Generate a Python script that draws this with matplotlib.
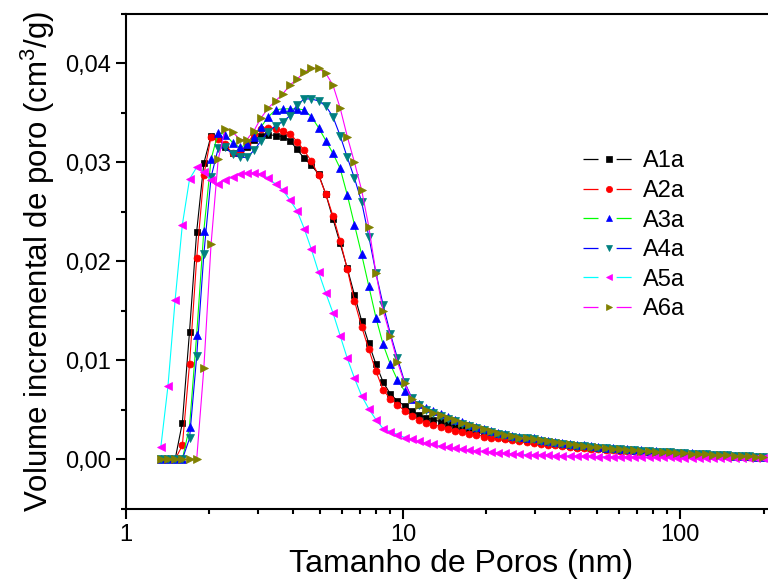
import matplotlib
matplotlib.use('Agg')
import matplotlib.pyplot as plt
from matplotlib.lines import Line2D
from matplotlib.ticker import FuncFormatter, MultipleLocator, LogLocator

plt.rcParams['font.family'] = ['Liberation Sans', 'DejaVu Sans']
plt.rcParams['mathtext.fontset'] = 'custom'
plt.rcParams['mathtext.rm'] = 'Liberation Sans'
plt.rcParams['mathtext.default'] = 'regular'

# pore width grid (nm), DFT log spacing
pore_width = [
    1.335, 1.417, 1.504, 1.597, 1.695, 1.799, 1.909, 2.027, 2.151, 2.283,
    2.423, 2.572, 2.730, 2.897, 3.075, 3.264, 3.465, 3.678, 3.903, 4.143,
    4.398, 4.668, 4.954, 5.259, 5.582, 5.925, 6.289, 6.675, 7.085, 7.520,
    7.982, 8.472, 8.993, 9.545, 10.13, 10.75, 11.41, 12.12, 12.86, 13.65,
    14.49, 15.38, 16.32, 17.33, 18.39, 19.52, 20.72, 21.99, 23.34, 24.78,
    26.30, 27.91, 29.63, 31.45, 33.38, 35.43, 37.61, 39.92, 42.37, 44.97,
    47.73, 50.66, 53.78, 57.08, 60.59, 64.31, 68.26, 72.45, 76.90, 81.63,
    86.64, 91.96, 97.61, 103.6, 110.0, 116.7, 123.9, 131.5, 139.6, 148.2,
    157.3, 166.9, 177.2, 188.1, 199.6,
]

a1a = [
    0, 0, 0, 0.0037, 0.0129, 0.0230, 0.0299, 0.0327, 0.0325, 0.0315,
    0.0309, 0.0309, 0.0315, 0.0323, 0.0327, 0.0328, 0.0327, 0.0326, 0.0322, 0.0313,
    0.0304, 0.0297, 0.0288, 0.0268, 0.0243, 0.0218, 0.0193, 0.0166, 0.0140, 0.0117,
    0.0096, 0.0078, 0.0066, 0.0059, 0.0054, 0.0049, 0.0045, 0.0042, 0.0040, 0.0038,
    0.0036, 0.0034, 0.0032, 0.0030, 0.0028, 0.0027, 0.0025, 0.0024, 0.0022, 0.0021,
    0.0020, 0.0019, 0.0018, 0.0017, 0.0016, 0.0015, 0.0014, 0.0013, 0.0012, 0.0012,
    0.0011, 0.0011, 0.0010, 0.0010, 0.0009, 0.0009, 0.0008, 0.0008, 0.0007, 0.0007,
    0.0007, 0.0006, 0.0006, 0.0005, 0.0005, 0.0005, 0.0004, 0.0004, 0.0004, 0.0003,
    0.0003, 0.0003, 0.0002, 0.0002, 0.0002,
]
a2a = [
    0, 0, 0, 0.0014, 0.0096, 0.0203, 0.0287, 0.0326, 0.0324, 0.0318,
    0.0309, 0.0310, 0.0318, 0.0329, 0.0334, 0.0335, 0.0334, 0.0332, 0.0329, 0.0321,
    0.0312, 0.0301, 0.0287, 0.0268, 0.0246, 0.0221, 0.0192, 0.0160, 0.0134, 0.0111,
    0.0089, 0.0070, 0.0061, 0.0055, 0.0049, 0.0044, 0.0040, 0.0037, 0.0035, 0.0033,
    0.0031, 0.0029, 0.0028, 0.0026, 0.0025, 0.0023, 0.0022, 0.0021, 0.0020, 0.0019,
    0.0018, 0.0017, 0.0016, 0.0015, 0.0014, 0.0014, 0.0013, 0.0012, 0.0011, 0.0011,
    0.0010, 0.0010, 0.0009, 0.0009, 0.0008, 0.0008, 0.0008, 0.0007, 0.0007, 0.0007,
    0.0006, 0.0006, 0.0006, 0.0005, 0.0005, 0.0005, 0.0004, 0.0004, 0.0004, 0.0003,
    0.0003, 0.0003, 0.0002, 0.0002, 0.0002,
]
a3a = [
    0, 0, 0, 0, 0.0033, 0.0126, 0.0231, 0.0303, 0.0330, 0.0328,
    0.0320, 0.0315, 0.0318, 0.0326, 0.0336, 0.0346, 0.0353, 0.0354, 0.0354, 0.0354,
    0.0353, 0.0346, 0.0335, 0.0322, 0.0309, 0.0294, 0.0267, 0.0237, 0.0207, 0.0175,
    0.0143, 0.0116, 0.0096, 0.0080, 0.0069, 0.0061, 0.0056, 0.0052, 0.0049, 0.0046,
    0.0043, 0.0040, 0.0038, 0.0035, 0.0033, 0.0031, 0.0029, 0.0027, 0.0026, 0.0024,
    0.0023, 0.0022, 0.0021, 0.0019, 0.0018, 0.0017, 0.0016, 0.0015, 0.0014, 0.0014,
    0.0013, 0.0012, 0.0011, 0.0011, 0.0010, 0.0010, 0.0009, 0.0009, 0.0008, 0.0008,
    0.0007, 0.0007, 0.0006, 0.0006, 0.0006, 0.0005, 0.0005, 0.0004, 0.0004, 0.0004,
    0.0003, 0.0003, 0.0003, 0.0002, 0.0002,
]
a4a = [
    0, 0, 0, 0, 0.0021, 0.0104, 0.0207, 0.0285, 0.0314, 0.0315,
    0.0308, 0.0305, 0.0305, 0.0312, 0.0322, 0.0331, 0.0337, 0.0341, 0.0347, 0.0358,
    0.0364, 0.0364, 0.0362, 0.0357, 0.0346, 0.0327, 0.0305, 0.0284, 0.0260, 0.0225,
    0.0188, 0.0156, 0.0127, 0.0102, 0.0078, 0.0062, 0.0055, 0.0050, 0.0047, 0.0044,
    0.0041, 0.0039, 0.0036, 0.0034, 0.0032, 0.0030, 0.0028, 0.0026, 0.0025, 0.0023,
    0.0022, 0.0021, 0.0020, 0.0018, 0.0017, 0.0016, 0.0015, 0.0014, 0.0013, 0.0013,
    0.0012, 0.0011, 0.0011, 0.0010, 0.0010, 0.0009, 0.0009, 0.0008, 0.0008, 0.0007,
    0.0007, 0.0007, 0.0006, 0.0006, 0.0005, 0.0005, 0.0005, 0.0004, 0.0004, 0.0004,
    0.0003, 0.0003, 0.0003, 0.0002, 0.0002,
]
a5a = [
    0.0012, 0.0074, 0.0161, 0.0237, 0.0283, 0.0295, 0.0290, 0.0282, 0.0278, 0.0282,
    0.0285, 0.0288, 0.0289, 0.0289, 0.0288, 0.0284, 0.0278, 0.0272, 0.0262, 0.0251,
    0.0233, 0.0212, 0.0189, 0.0168, 0.0148, 0.0125, 0.0102, 0.0082, 0.0064, 0.0051,
    0.0040, 0.0031, 0.0028, 0.0025, 0.0022, 0.0020, 0.0018, 0.0016, 0.0015, 0.0013,
    0.0012, 0.0011, 0.0010, 0.0009, 0.00085, 0.0008, 0.0007, 0.00065, 0.0006, 0.00055,
    0.0005, 0.00048, 0.00045, 0.00042, 0.0004, 0.00038, 0.00036, 0.00034, 0.00032, 0.0003,
    0.0003, 0.00028, 0.00027, 0.00026, 0.00025, 0.00024, 0.00023, 0.00022, 0.00021, 0.0002,
    0.0002, 0.00019, 0.00018, 0.00017, 0.00016, 0.00015, 0.00014, 0.00013, 0.00012, 0.00011,
    0.0001, 0.0001, 0.0001, 0.0001, 0.0001,
]
a6a = [
    0, 0, 0, 0, 0, 0, 0.0092, 0.0217, 0.0303, 0.0334,
    0.0331, 0.0323, 0.0323, 0.0332, 0.0345, 0.0355, 0.0362, 0.0369, 0.0378, 0.0384,
    0.0391, 0.0395, 0.0395, 0.0390, 0.0378, 0.0355, 0.0326, 0.0300, 0.0272, 0.0235,
    0.0188, 0.0150, 0.0125, 0.0098, 0.0077, 0.0061, 0.0055, 0.0050, 0.0047, 0.0045,
    0.0042, 0.0040, 0.0037, 0.0035, 0.0033, 0.0031, 0.0029, 0.0027, 0.0025, 0.0024,
    0.0022, 0.0021, 0.0020, 0.0019, 0.0018, 0.0017, 0.0016, 0.0015, 0.0014, 0.0013,
    0.0012, 0.0012, 0.0011, 0.0010, 0.0010, 0.0009, 0.0009, 0.0008, 0.0008, 0.0007,
    0.0007, 0.0007, 0.0006, 0.0006, 0.0005, 0.0005, 0.0005, 0.0004, 0.0004, 0.0004,
    0.0003, 0.0003, 0.0003, 0.0002, 0.0002,
]

labels = ['A1a', 'A2a', 'A3a', 'A4a', 'A5a', 'A6a']
series = [a1a, a2a, a3a, a4a, a5a, a6a]
line_colors = ['#000000', '#ff0000', '#00ff00', '#0000ff', '#00ffff', '#ff00ff']
marker_colors = ['#000000', '#ff0000', '#0000ff', '#008080', '#ff00ff', '#808000']
markers = ['s', 'o', '^', 'v', '<', '>']
marker_sizes = [4.5, 5, 5.5, 5.5, 5.5, 5.5]

fig = plt.figure(figsize=(7.68, 5.83), dpi=100)
ax = fig.add_axes([0.1641, 0.1273, 0.8724, 0.849])

handles = []
for y, lab, lc, mc, mk, ms in zip(series, labels, line_colors, marker_colors, markers, marker_sizes):
    ax.plot(pore_width, y, color=lc, lw=0.8, marker=mk, ms=ms, mfc=mc, mec=mc, mew=0.5)
    # legend entry: line - gap - marker - gap - line
    handles.append(Line2D([], [], color=lc, lw=0.9, dashes=(12, 14.5), marker=mk,
                          ms=ms - 0.5, mfc=mc, mec=mc, mew=0.5, label=lab))

ax.set_xscale('log')
ax.set_xlim(1, 262)
ax.set_ylim(-0.005, 0.045)

ax.xaxis.set_major_locator(LogLocator(base=10))
ax.xaxis.set_minor_locator(LogLocator(base=10, subs=range(2, 10)))
ax.xaxis.set_major_formatter(FuncFormatter(lambda v, p: f'{v:g}'))
ax.xaxis.set_minor_formatter(FuncFormatter(lambda v, p: ''))
ax.yaxis.set_major_locator(MultipleLocator(0.01))
ax.yaxis.set_minor_locator(MultipleLocator(0.005))
ax.yaxis.set_major_formatter(FuncFormatter(lambda v, p: f'{v:.2f}'.replace('.', ',')))

for side in ['left', 'bottom', 'top']:
    ax.spines[side].set_linewidth(1.5)
ax.spines['right'].set_visible(False)
ax.tick_params(which='major', direction='out', length=7, width=1.5, labelsize=17, pad=4)
ax.tick_params(which='minor', direction='out', length=3.5, width=1.5)
ax.tick_params(top=False, right=False, which='both')

ax.set_xlabel('Tamanho de Poros (nm)', fontsize=23, labelpad=2)
ax.set_ylabel('Volume incremental de poro (cm$^3$/g)', fontsize=22.5, labelpad=6)

ax.legend(handles=handles, loc='upper left', bbox_to_anchor=(0.759, 0.742),
          bbox_transform=fig.transFigure, frameon=False, fontsize=17,
          handlelength=2.25, handletextpad=0.3, labelspacing=0.32, borderpad=0,
          borderaxespad=0, numpoints=1)

fig.savefig('out.png', dpi=100)
